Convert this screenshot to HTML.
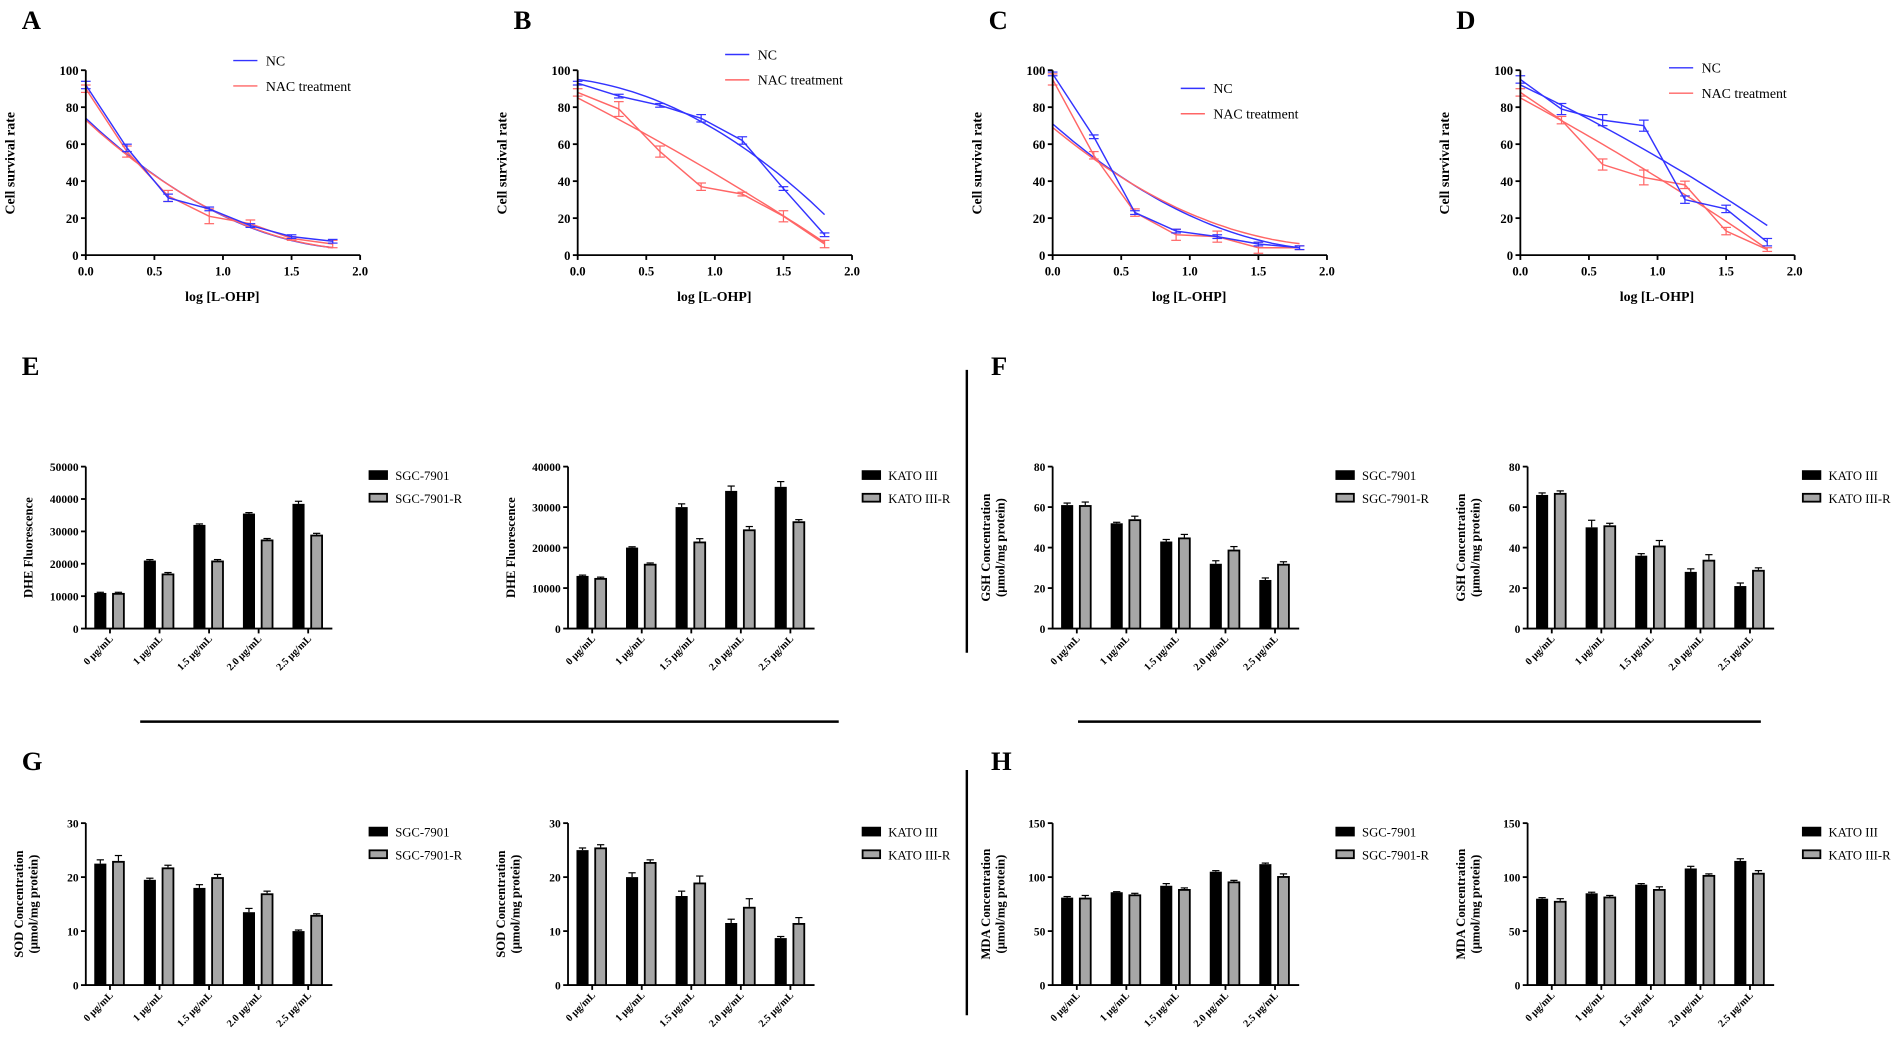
<!DOCTYPE html>
<html><head><meta charset="utf-8">
<style>
html,body{margin:0;padding:0;background:#fff;}
svg{display:block;}
text{font-family:"Liberation Serif",serif;}
</style></head>
<body>
<svg id="s" width="1895" height="1042" viewBox="0 0 1568 862" xmlns="http://www.w3.org/2000/svg"></svg>
<script>
const S=document.getElementById('s');let h='';
function T(x,y,t,o){o=o||{};h+=`<text x="${x}" y="${y}" font-size="${o.fs||10}" font-weight="${o.b?'bold':'normal'}" text-anchor="${o.a||'start'}" ${o.tr?`transform="${o.tr}"`:''} fill="#000">${t}</text>`;}
function L(x1,y1,x2,y2,c,w){h+=`<line x1="${x1}" y1="${y1}" x2="${x2}" y2="${y2}" stroke="${c||'#000'}" stroke-width="${w||1.5}"/>`;}
const BL='#3333ff',RD='#ff6666';
function lineP(ax,lab,lx,ly,nc,nac,fnc,fnac,enc,enac){
 const top=58,bot=211,X=v=>ax+v*113.5,Y=v=>bot-v*1.53;
 T(ax-53,24,lab,{fs:22,b:1});
 [[fnc,BL],[fnac,RD]].forEach(([f,c])=>{let p='';for(let i=0;i<=36;i++){let x=i*0.05;p+=(i?'L':'M')+X(x).toFixed(1)+','+Y(f(x)).toFixed(1);}h+=`<path d="${p}" fill="none" stroke="${c}" stroke-width="1.2"/>`;});
 [[nac,RD,enac],[nc,BL,enc]].forEach(([d,c,e])=>{let p='';d.forEach((v,i)=>{p+=(i?'L':'M')+X(i*0.3)+','+Y(v);});h+=`<path d="${p}" fill="none" stroke="${c}" stroke-width="1.2"/>`;
  d.forEach((v,i)=>{let x=X(i*0.3),er=e[i];L(x,Y(v-er),x,Y(v+er),c,1);L(x-4,Y(v-er),x+4,Y(v-er),c,1);L(x-4,Y(v+er),x+4,Y(v+er),c,1);});});
 L(ax,top,ax,bot+0.75);L(ax-0.75,bot,ax+227,bot);
 for(let i=0;i<=5;i++){let y=bot-i*30.6;L(ax-4,y,ax,y);T(ax-6,y+4,i*20,{b:1,a:'end',fs:10.5});}
 for(let i=0;i<=4;i++){let x=ax+i*56.75;L(x,bot,x,bot+4);T(x,bot+17,(i*0.5).toFixed(1),{b:1,a:'middle',fs:10.5});}
 T(ax+113,bot+38,'log [L-OHP]',{b:1,a:'middle',fs:11.5});
 T(0,0,'Cell survival rate',{b:1,a:'middle',fs:11.5,tr:`translate(${ax-59},135) rotate(-90)`});
 L(lx,ly,lx+20,ly,BL,1.2);T(lx+27,ly+4,'NC',{fs:11.5});
 L(lx,ly+21,lx+20,ly+21,RD,1.2);T(lx+27,ly+25,'NAC treatment',{fs:11.5});
}
const q=(a,b,c)=>x=>a+b*x+c*x*x;
lineP(71,'A',193,50,[92,58,31,25,16,10,7.5],[90,56,32,21,17,9,6],q(74,-70,17.3),q(73,-68,16.5),[2,2,2,1,1,1,1],[2,3,3,4,2,1,2]);
lineP(478,'B',600,45,[93,86,81,74,62,36,11],[88,79,56,37,33,21,6],q(95,-10,-17),q(85,-38,-3),[1,1,1,2,2,1,1],[2,4,3,2,1,3,2]);
lineP(871,'C',977,73,[98,64,23,13,10,6,4],[95,54,23,11,10,4,4],q(71,-65,15.4),q(69,-61,14.5),[1,1,1,1,1,1,1],[3,2,2,3,3,3,1]);
lineP(1258,'D',1381,56,[95,79,73,70,30,25,7],[88,73,49,42,38,13,3],q(92,-35,-4),q(85,-40,-3),[2,3,3,3,2,2,2],[2,2,3,4,2,2,1]);

const cats=['0 μg/mL','1 μg/mL','1.5 μg/mL','2.0 μg/mL','2.5 μg/mL'];
function bar(ax,top,max,step,ylab,leg,lx,b,g,eb,eg){
 const bot=top+134,Y=v=>bot-v/max*134;
 L(ax,top,ax,bot+0.75);L(ax-0.75,bot,ax+204,bot);
 const n=max/step;
 for(let i=0;i<=n;i++){let v=i*step,y=Y(v);L(ax-4,y,ax,y);T(ax-6,y+3.5,v,{b:1,a:'end',fs:9.5});}
 for(let i=0;i<5;i++){let c=ax+20+i*41;
  h+=`<rect x="${c-13}" y="${Y(b[i])}" width="10" height="${bot-Y(b[i])}" fill="#000"/>`;
  h+=`<rect x="${c+2.5}" y="${Y(g[i])+0.75}" width="9" height="${bot-Y(g[i])-0.75}" fill="#a6a6a6" stroke="#000" stroke-width="1.5"/>`;
  [[c-8,b[i],eb[i]],[c+7,g[i],eg[i]]].forEach(([x,v,e])=>{L(x,Y(v+e),x,Y(v),'#000',1);L(x-3,Y(v+e),x+3,Y(v+e),'#000',1);});
  L(c,bot,c,bot+4);
  T(0,0,cats[i],{b:1,a:'end',fs:8.5,tr:`translate(${c+3},${bot+9}) rotate(-45)`});}
 if(ylab.length==1)T(0,0,ylab[0],{b:1,a:'middle',fs:10.5,tr:`translate(${ax-44},${top+67}) rotate(-90)`});
 else{T(0,0,ylab[0],{b:1,a:'middle',fs:10.5,tr:`translate(${ax-52},${top+67}) rotate(-90)`});T(0,0,ylab[1],{b:1,a:'middle',fs:10.5,tr:`translate(${ax-40},${top+67}) rotate(-90)`});}
 const ly=top+7;
 h+=`<rect x="${lx}" y="${ly-4}" width="16" height="8" fill="#000"/>`;T(lx+22,ly+4,leg[0],{fs:10.5});
 h+=`<rect x="${lx+0.75}" y="${ly+15.5}" width="14.5" height="6.5" fill="#a6a6a6" stroke="#000" stroke-width="1.5"/>`;T(lx+22,ly+23,leg[1],{fs:10.5});
}
const S1=['SGC-7901','SGC-7901-R'],K=['KATO III','KATO III-R'],GS=['GSH Concentration','(μmol/mg protein)'];
bar(71,386,50000,10000,['DHE Fluorescence'],S1,305,[11000,21000,32000,35500,38500],[11000,17000,21000,27500,29000],[200,300,300,300,800],[200,300,300,300,400]);
bar(470,386,40000,10000,['DHE Fluorescence'],K,713,[13000,20000,30000,34000,35000],[12500,16000,21500,24500,26500],[200,200,800,1200,1300],[200,200,700,700,400]);
bar(871,386,80,20,GS,S1,1105,[61,52,43,32,24],[61,54,45,39,32],[1,0.5,1,1.5,1],[1.5,1.5,1.5,1.5,1]);
bar(1264,386,80,20,GS,K,1491,[66,50,36,28,21],[67,51,41,34,29],[1,3.5,1,1.5,1.5],[1,1,2.5,2.5,1]);
bar(71,681,30,10,['SOD Concentration','(μmol/mg protein)'],S1,305,[22.5,19.5,18,13.5,10],[23,21.8,20,17,13],[0.7,0.3,0.6,0.7,0.2],[1,0.4,0.5,0.4,0.2]);
bar(470,681,30,10,['SOD Concentration','(μmol/mg protein)'],K,713,[25,20,16.5,11.5,8.7],[25.5,22.8,19,14.5,11.5],[0.4,0.8,0.9,0.7,0.3],[0.5,0.4,1.2,1.5,1]);
bar(871,681,150,50,['MDA Concentration','(μmol/mg protein)'],S1,1105,[81,86,92,105,112],[81,84,89,96,101],[1,0.5,2,1,1],[2,1,1,1,2]);
bar(1264,681,150,50,['MDA Concentration','(μmol/mg protein)'],K,1491,[80,85,93,108,115],[78,82,89,102,104],[1,1,1,2,2],[2,1,2,1,2]);
T(18,310,'E',{fs:22,b:1});T(820,310,'F',{fs:22,b:1});T(18,637,'G',{fs:22,b:1});T(820,637,'H',{fs:22,b:1});
L(116,597,694,597,'#000',2);L(892,597,1457,597,'#000',2);
L(800,306,800,540,'#000',2);L(800,637,800,840,'#000',2);
S.innerHTML=h;
</script>
</body></html>
